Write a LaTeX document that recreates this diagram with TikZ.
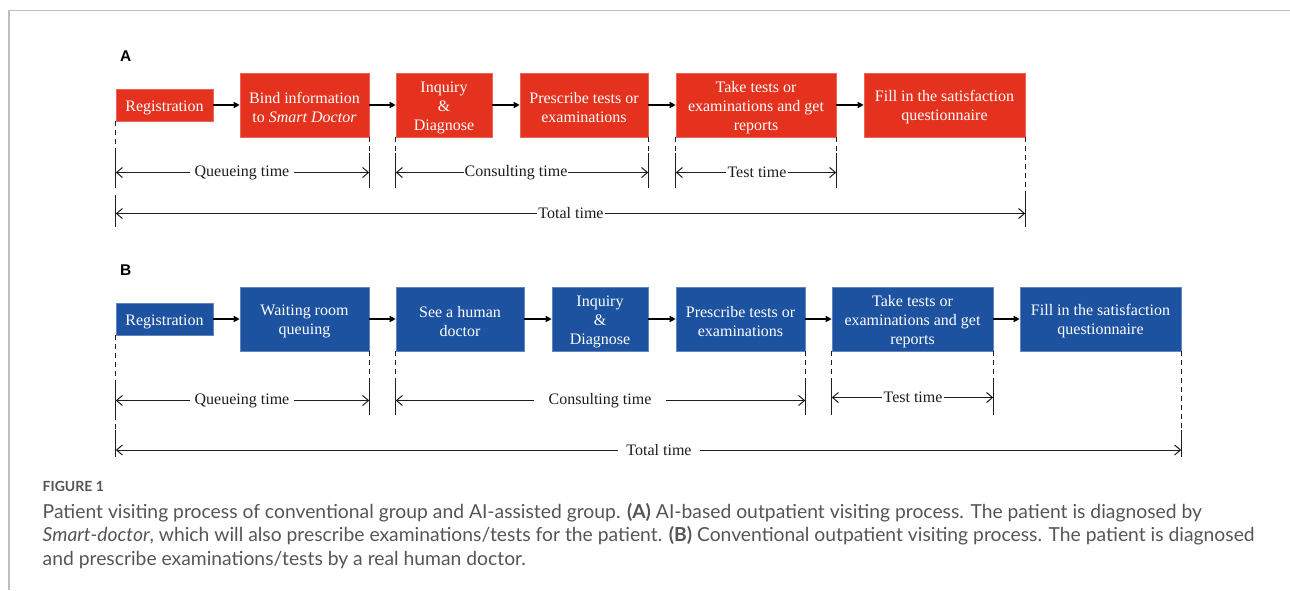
\documentclass[tikz,border=0pt]{standalone}
\usepackage{fontspec}
\setmainfont{Liberation Serif}
\newfontfamily\panelfont{Liberation Sans}
\newfontfamily\capfont{Lato}
\usetikzlibrary{arrows.meta}
\definecolor{redbox}{RGB}{229,50,30}
\definecolor{bluebox}{RGB}{28,82,160}
\definecolor{ink}{RGB}{30,30,30}
\definecolor{framegray}{RGB}{190,190,190}
\definecolor{capgray}{RGB}{85,85,85}
% tall invisible strut on the first line of a box label, to sit the text a little lower
\newcommand\firstline{\rule{0pt}{16pt}}
\begin{document}
\begin{tikzpicture}[x=1pt,y=-1pt,
  stage/.style={text=white, align=center, inner sep=0pt,
    font=\fontsize{16}{19}\selectfont, minimum height=64pt},
  redstage/.style={stage, fill=redbox, draw=redbox!75!white, line width=0.6pt},
  bluestage/.style={stage, fill=bluebox, draw=bluebox!70!white, line width=0.6pt},
  short/.style={minimum height=32pt},
  flow/.style={draw=black, line width=1.4pt, -{Triangle[length=6pt,width=6pt]}},
  ext/.style={draw=ink, line width=0.9pt, dash pattern=on 5pt off 4pt},
  tick/.style={draw=ink, line width=1pt},
  dim/.style={draw=ink, line width=1pt,
    {Straight Barb[length=6pt,width=10pt]}-{Straight Barb[length=6pt,width=10pt]}},
  dimlabel/.style={fill=white, text=ink, inner ysep=1pt, font=\fontsize{16}{19}\selectfont},
  panel/.style={font=\panelfont\bfseries\fontsize{15.5}{18}\selectfont, anchor=base west, inner sep=0pt},
  captext/.style={font=\capfont\fontsize{19.3}{23.5}\selectfont, text=capgray, anchor=base west, inner sep=0pt},
]
\useasboundingbox (0,0) rectangle (1290,590);

% figure frame
\draw[framegray, line width=1.4pt] (9,590) -- (9,10.5) -- (1290,10.5);

% ---------------- panel A: AI-assisted process ----------------
\node[panel] (labA) at (120,61) {A};
\node[redstage, short, minimum width=97pt] (regA) at (164.5,105) {\firstline Registration};
\node[redstage, minimum width=129pt] (bindA) at (304.5,105) {\firstline Bind information\\to \textit{Smart Doctor}};
\node[redstage, minimum width=96pt] (inqA) at (444,105) {\firstline Inquiry\\\&\\Diagnose};
\node[redstage, minimum width=128pt] (preA) at (584,105) {\firstline Prescribe tests or\\examinations};
\node[redstage, minimum width=160pt] (takeA) at (756,105) {\firstline Take tests or\\examinations and get\\reports};
\node[redstage, minimum width=161pt] (fillA) at (944.5,105) {\firstline Fill in the satisfaction\\questionnaire};

\draw[flow] (regA) -- (bindA);
\draw[flow] (bindA) -- (inqA);
\draw[flow] (inqA) -- (preA);
\draw[flow] (preA) -- (takeA);
\draw[flow] (takeA) -- (fillA);

\coordinate (a1) at (0,153);
\coordinate (a2) at (0,188);
\coordinate (a3) at (0,195);
\coordinate (a4) at (0,227);
\coordinate (ad) at (0,172.5);
\coordinate (at) at (0,213.5);

\foreach \p in {regA.south west, bindA.south east, inqA.south west,
                preA.south east, takeA.south west, takeA.south east} {
  \draw[ext] (\p) -- (\p |- a1);
  \draw[tick] (\p |- a1) -- (\p |- a2);
}
\draw[tick] (regA.south west |- a3) -- (regA.south west |- a4);
\draw[ext] (fillA.south east) -- (fillA.south east |- a3);
\draw[tick] (fillA.south east |- a3) -- (fillA.south east |- a4);

\draw[dim] (regA.south west |- ad) -- (bindA.south east |- ad);
\draw[dim] (inqA.south west |- ad) -- (preA.south east |- ad);
\draw[dim] (takeA.south west |- ad) -- (takeA.south east |- ad);
\draw[dim] (regA.south west |- at) -- (fillA.south east |- at);

\node[dimlabel, inner xsep=5pt] (qA) at (242,172.5) {Queueing time};
\node[dimlabel, inner xsep=1pt] (cA) at (516,172.5) {Consulting time};
\node[dimlabel, inner xsep=2pt] (tA) at (757,172) {Test time};
\node[dimlabel, inner xsep=1pt] (ttA) at (571,213.5) {Total time};

% ---------------- panel B: conventional process ----------------
\node[panel] (labB) at (120,275) {B};
\node[bluestage, short, minimum width=97pt] (regB) at (164.5,319) {\firstline Registration};
\node[bluestage, minimum width=129pt] (waitB) at (304.5,319) {\firstline Waiting room\\queuing};
\node[bluestage, minimum width=128pt] (seeB) at (460,319) {\firstline See a human\\doctor};
\node[bluestage, minimum width=96pt] (inqB) at (600,319) {\firstline Inquiry\\\&\\Diagnose};
\node[bluestage, minimum width=129pt] (preB) at (740.5,319) {\firstline Prescribe tests or\\examinations};
\node[bluestage, minimum width=161pt] (takeB) at (912.5,319) {\firstline Take tests or\\examinations and get\\reports};
\node[bluestage, minimum width=161pt] (fillB) at (1100.5,319) {\firstline Fill in the satisfaction\\questionnaire};

\draw[flow] (regB) -- (waitB);
\draw[flow] (waitB) -- (seeB);
\draw[flow] (seeB) -- (inqB);
\draw[flow] (inqB) -- (preB);
\draw[flow] (preB) -- (takeB);
\draw[flow] (takeB) -- (fillB);

\coordinate (b1) at (0,383);
\coordinate (b2) at (0,415);
\coordinate (b3) at (0,430);
\coordinate (b4) at (0,457);
\coordinate (bd) at (0,400.5);
\coordinate (btd) at (0,397.5);
\coordinate (bt) at (0,450);

\foreach \p in {regB.south west, waitB.south east, seeB.south west,
                preB.south east, takeB.south west, takeB.south east} {
  \draw[ext] (\p) -- (\p |- b1);
  \draw[tick] (\p |- b1) -- (\p |- b2);
}
\draw[ext] (regB.south west |- b2) -- (regB.south west |- b3);
\draw[tick] (regB.south west |- b3) -- (regB.south west |- b4);
\draw[ext] (fillB.south east) -- (fillB.south east |- b3);
\draw[tick] (fillB.south east |- b3) -- (fillB.south east |- b4);

\draw[dim] (regB.south west |- bd) -- (waitB.south east |- bd);
\draw[dim] (seeB.south west |- bd) -- (preB.south east |- bd);
\draw[dim] (takeB.south west |- btd) -- (takeB.south east |- btd);
\draw[dim] (regB.south west |- bt) -- (fillB.south east |- bt);

\node[dimlabel, inner xsep=5pt] (qB) at (242,400.5) {Queueing time};
\node[dimlabel, inner xsep=15pt] (cB) at (600,400.5) {Consulting time};
\node[dimlabel, inner xsep=2pt] (tB) at (913,397.5) {Test time};
\node[dimlabel, inner xsep=8pt] (ttB) at (659,450) {Total time};

% ---------------- caption ----------------
\node[captext, font=\capfont\bfseries\fontsize{14}{16}\selectfont] (figno) at (42.5,491) {FIGURE 1};
\node[captext] (cap1) at (42.5,518) {Patient visiting process of conventional group and AI-assisted group. \textbf{(A)} AI-based outpatient visiting process. The patient is diagnosed by};
\node[captext] (cap2) at (42.5,541.5) {\textit{Smart-doctor}, which will also prescribe examinations/tests for the patient. \textbf{(B)} Conventional outpatient visiting process. The patient is diagnosed};
\node[captext] (cap3) at (42.5,565) {and prescribe examinations/tests by a real human doctor.};
\end{tikzpicture}
\end{document}
